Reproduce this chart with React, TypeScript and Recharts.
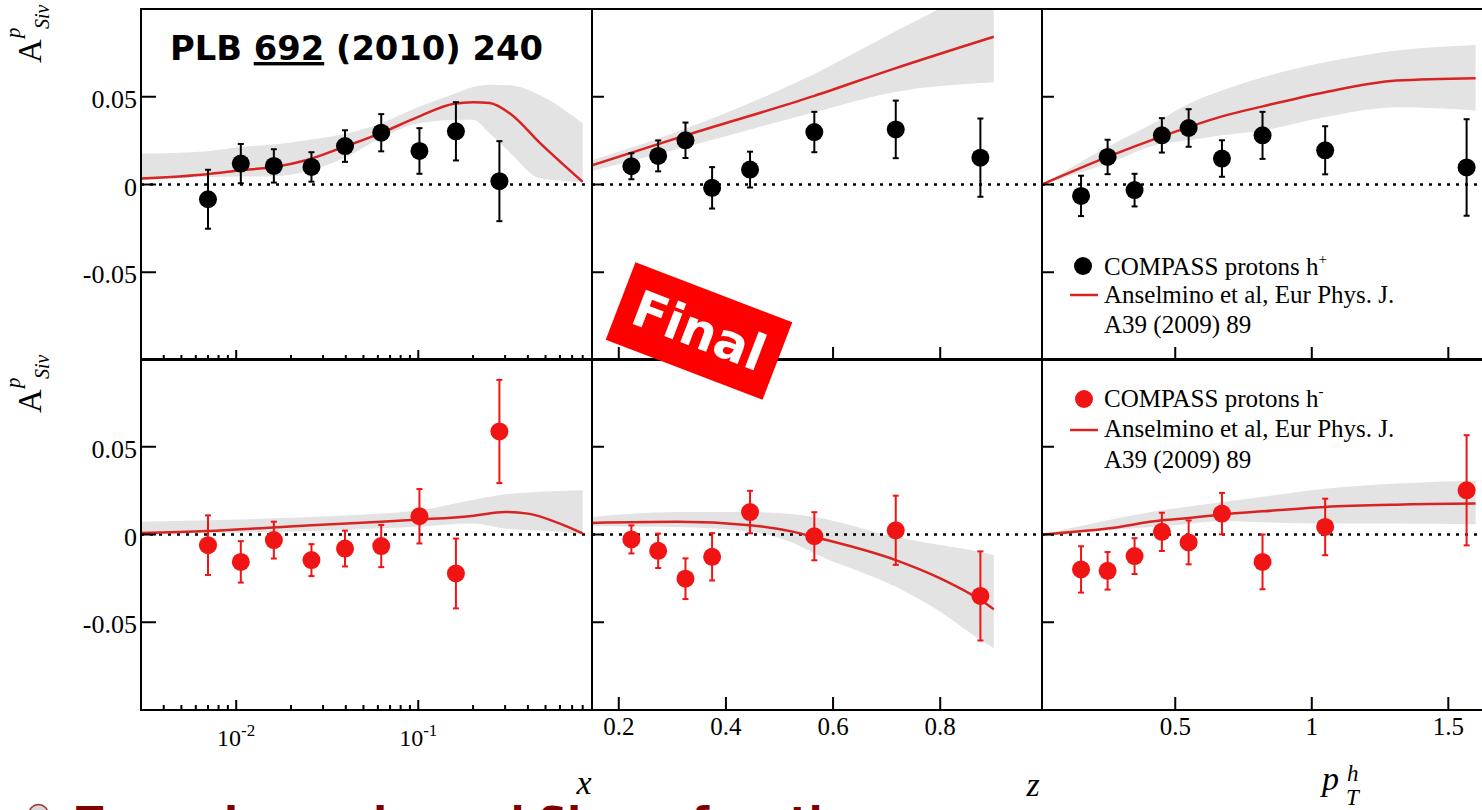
import React from 'react';
import {
  ComposedChart,
  XAxis,
  YAxis,
  Scatter,
  Line,
  Area,
  ErrorBar,
  ReferenceLine,
  ReferenceArea,
} from 'recharts';

// ---------------- DATA ----------------
// bin centres
const xBins = [0.0070, 0.0106, 0.0161, 0.0259, 0.0396, 0.0626, 0.1015, 0.161, 0.279];
const zBins = [0.2235, 0.2735, 0.3245, 0.3742, 0.445, 0.565, 0.717, 0.875];
const ptBins = [0.155, 0.2523, 0.351, 0.451, 0.549, 0.671, 0.8196, 1.049, 1.567];

// h+ asymmetries
const posXVal = [-0.0084, 0.0119, 0.0106, 0.0100, 0.0219, 0.0295, 0.0191, 0.0303, 0.0019];
const posXErr = [0.0168, 0.0112, 0.0095, 0.0084, 0.0090, 0.0106, 0.0130, 0.0166, 0.0228];
const posZVal = [0.0104, 0.0163, 0.0252, -0.0019, 0.0085, 0.0299, 0.0314, 0.0153];
const posZErr = [0.0074, 0.0088, 0.0101, 0.0118, 0.0102, 0.0115, 0.0164, 0.0223];
const posPtVal = [-0.0065, 0.0157, -0.0032, 0.0280, 0.0322, 0.0148, 0.0280, 0.0195, 0.0097];
const posPtErr = [0.0115, 0.0098, 0.0093, 0.0098, 0.0107, 0.0104, 0.0134, 0.0137, 0.0275];

// h- asymmetries
const negXVal = [-0.0061, -0.0156, -0.0032, -0.0146, -0.0080, -0.0066, 0.0104, -0.0222, 0.0587];
const negXErr = [0.0170, 0.0118, 0.0105, 0.0091, 0.0102, 0.0120, 0.0155, 0.0199, 0.0294];
const negZVal = [-0.0028, -0.0093, -0.0252, -0.0127, 0.0128, -0.0010, 0.0024, -0.0350];
const negZErr = [0.0080, 0.0098, 0.0116, 0.0135, 0.0121, 0.0137, 0.0197, 0.0254];
const negPtVal = [-0.0199, -0.0207, -0.0123, 0.0015, -0.0045, 0.0119, -0.0156, 0.0043, 0.0252];
const negPtErr = [0.0132, 0.0107, 0.0102, 0.0109, 0.0125, 0.0118, 0.0156, 0.0161, 0.0314];

// model (Anselmino et al.) curves and uncertainty bands
const posXGrid = [0.003, 0.0069, 0.0106, 0.0161, 0.0245, 0.040, 0.0623, 0.0992, 0.157, 0.20, 0.247, 0.32, 0.47, 0.80];
const posXCurve = [0.0034, 0.0059, 0.0081, 0.0100, 0.0140, 0.0218, 0.0293, 0.0384, 0.0460, 0.0469, 0.0464, 0.0403, 0.0233, 0.0015];
const posXHi = [0.0176, 0.0190, 0.0214, 0.0228, 0.0252, 0.0290, 0.0347, 0.0440, 0.0515, 0.0555, 0.0568, 0.0565, 0.0507, 0.0347];
const posXLo = [0.0024, 0.0043, 0.0045, 0.0047, 0.0075, 0.0155, 0.0265, 0.0347, 0.0368, 0.0369, 0.0290, 0.0180, 0.0034, 0.0015];

const negXGrid = [0.003, 0.0069, 0.0259, 0.0626, 0.1015, 0.196, 0.30, 0.40, 0.60, 0.80];
const negXCurve = [0.0009, 0.0020, 0.0053, 0.0072, 0.0085, 0.0106, 0.0128, 0.0119, 0.0062, 0.0006];
const negXHi = [0.0072, 0.0081, 0.0100, 0.0119, 0.0138, 0.0195, 0.0229, 0.0240, 0.0248, 0.0252];
const negXLo = [0.0006, 0.0008, 0.0020, 0.0035, 0.0045, 0.0062, 0.0034, 0.0025, 0.0015, 0.0000];

const posZGrid = [0.15, 0.3245, 0.565, 0.713, 0.90];
const posZCurve = [0.0110, 0.0280, 0.0505, 0.0659, 0.0842];
const posZHi = [0.0138, 0.0318, 0.0630, 0.0867, 0.1160];
const posZLo = [0.0077, 0.0214, 0.0412, 0.0526, 0.0583];

const negZGrid = [0.15, 0.309, 0.445, 0.5265, 0.565, 0.717, 0.80, 0.876, 0.90];
const negZCurve = [0.0066, 0.0072, 0.0053, 0.0015, -0.0014, -0.0146, -0.0250, -0.0375, -0.0426];
const negZHi = [0.0100, 0.0128, 0.0128, 0.0116, 0.0100, -0.0014, -0.0060, -0.0100, -0.0118];
const negZLo = [0.0047, 0.0043, 0.0015, -0.0050, -0.0108, -0.0298, -0.0440, -0.0603, -0.0648];

const ptGrid = [0.012, 0.252, 0.451, 0.549, 0.671, 0.82, 1.049, 1.311, 1.60];
const posPtCurve = [0.0, 0.0157, 0.0274, 0.0327, 0.0388, 0.0445, 0.0526, 0.0592, 0.0606];
const posPtHi = [0.0, 0.0214, 0.0375, 0.0460, 0.0535, 0.0611, 0.0696, 0.0763, 0.0795];
const posPtLo = [0.0, 0.0119, 0.0233, 0.0252, 0.0280, 0.0308, 0.0384, 0.0440, 0.0422];
const negPtCurve = [0.0, 0.0034, 0.0081, 0.0094, 0.0114, 0.0132, 0.0157, 0.0170, 0.0176];
const negPtHi = [0.0, 0.0081, 0.0138, 0.0160, 0.0185, 0.0215, 0.0261, 0.0290, 0.0308];
const negPtLo = [0.0, 0.0024, 0.0047, 0.0060, 0.0077, 0.0070, 0.0062, 0.0062, 0.0058];

// axes
const yTickVals = [-0.05, 0, 0.05];
const yTickLabels = ['-0.05', '0', '0.05'];
const xLogTicks = [0.004, 0.005, 0.006, 0.007, 0.008, 0.009, 0.01, 0.02, 0.03, 0.04, 0.05, 0.06, 0.07, 0.08, 0.09, 0.1, 0.2, 0.3, 0.4, 0.5, 0.6, 0.7, 0.8];
const xLogMajor = [0.01, 0.1];
const xLogExp = ['-2', '-1'];
const zTicks = [0.2, 0.4, 0.6, 0.8];
const zTickLabels = ['0.2', '0.4', '0.6', '0.8'];
const ptTicks = [0.5, 1, 1.5];
const ptTickLabels = ['0.5', '1', '1.5'];

// ---------------- HELPERS ----------------
const buildModel = (xs: number[], ys: number[], lo: number[], hi: number[]) =>
  xs.map((x, i) => ({ x, y: ys[i], band: [lo[i], hi[i]] }));
const buildPts = (xs: number[], ys: number[], es: number[]) =>
  xs.map((x, i) => ({ x, y: ys[i], err: es[i] }));

const SERIF = "'Liberation Serif', 'Times New Roman', 'DejaVu Serif', serif";
const SANS = "'DejaVu Sans', Verdana, sans-serif";
const serif = { fontFamily: SERIF };
const sans = { fontFamily: SANS };
const CURVE = '#d82323';
const RED = '#f01414';
const BAND = '#e3e3e3';

type XMode = 'log' | 'z' | 'pt';

interface PanelCfg {
  left: number;
  top: number;
  w: number;
  h: number;
  mode: XMode;
  domain: [number, number];
  showXLabels: boolean;
  showYLabels: boolean;
  yTickLen: number;
  model: { x: number; y: number; band: number[] }[];
  pts: { x: number; y: number; err: number }[];
  color: string;
}

function makeXTick(mode: XMode, showLabels: boolean) {
  return (p: any) => {
    const { x, y, payload } = p;
    const v = payload.value;
    let len = 13;
    let label: React.ReactNode = null;
    if (mode === 'log') {
      const mi = xLogMajor.indexOf(v);
      len = mi >= 0 ? 10 : 5;
      if (showLabels && mi >= 0) {
        label = (
          <text x={x} y={y + 36} textAnchor="middle" style={serif} fontSize={24} fill="#000">
            10<tspan dy={-10} fontSize={17}>{xLogExp[mi]}</tspan>
          </text>
        );
      }
    } else {
      const ticks = mode === 'z' ? zTicks : ptTicks;
      const labels = mode === 'z' ? zTickLabels : ptTickLabels;
      const i = ticks.indexOf(v);
      if (showLabels && i >= 0) {
        label = (
          <text x={x} y={y + 25} textAnchor="middle" style={serif} fontSize={25} fill="#000">
            {labels[i]}
          </text>
        );
      }
    }
    return (
      <g>
        <line x1={x} y1={y} x2={x} y2={y - len} stroke="#000" strokeWidth={2} />
        {label}
      </g>
    );
  };
}

function makeYTick(len: number, showLabels: boolean) {
  return (p: any) => {
    const { x, y, payload } = p;
    const i = yTickVals.indexOf(payload.value);
    return (
      <g>
        <line x1={x} y1={y} x2={x + len} y2={y} stroke="#000" strokeWidth={2} />
        {showLabels && i >= 0 && (
          <text x={x - 4} y={y + 11} textAnchor="end" style={serif} fontSize={26} fill="#000">
            {yTickLabels[i]}
          </text>
        )}
      </g>
    );
  };
}

function Panel(c: PanelCfg) {
  const YW = 70;
  const XH = 60;
  const MT = 10;
  const MR = 10;
  const ticks = c.mode === 'log' ? xLogTicks : c.mode === 'z' ? zTicks : ptTicks;
  const color = c.color;
  return (
    <div style={{ position: 'absolute', left: c.left - YW, top: c.top - MT }}>
      <ComposedChart
        width={c.w + YW + MR}
        height={c.h + MT + XH}
        margin={{ top: MT, right: MR, bottom: 0, left: 0 }}
      >
        <XAxis
          dataKey="x"
          type="number"
          scale={c.mode === 'log' ? 'log' : 'linear'}
          domain={c.domain}
          allowDataOverflow
          ticks={ticks}
          interval={0}
          tickSize={0}
          tickMargin={0}
          tickLine={false}
          axisLine={{ stroke: '#000', strokeWidth: 2 }}
          height={XH}
          tick={makeXTick(c.mode, c.showXLabels)}
        />
        <YAxis
          type="number"
          domain={[-0.1, 0.1]}
          allowDataOverflow
          ticks={yTickVals}
          interval={0}
          tickSize={0}
          tickMargin={0}
          tickLine={false}
          axisLine={{ stroke: '#000', strokeWidth: 2 }}
          width={YW}
          tick={makeYTick(c.yTickLen, c.showYLabels)}
        />
        <Area
          data={c.model}
          dataKey="band"
          type="monotone"
          stroke="none"
          fill={BAND}
          fillOpacity={1}
          isAnimationActive={false}
        />
        <ReferenceLine y={0} stroke="#000" strokeWidth={2.5} strokeDasharray="3 6" />
        <Line
          data={c.model}
          dataKey="y"
          type="monotone"
          stroke={CURVE}
          strokeWidth={2.5}
          dot={false}
          isAnimationActive={false}
        />
        <Scatter
          data={c.pts}
          dataKey="y"
          fill={color}
          isAnimationActive={false}
          shape={(p: any) => <circle cx={p.cx} cy={p.cy} r={9} fill={color} />}
        >
          <ErrorBar dataKey="err" direction="y" width={3} stroke={color} strokeWidth={2} />
        </Scatter>
        <ReferenceArea
          x1={c.domain[0]}
          x2={c.domain[1]}
          y1={-0.1}
          y2={0.1}
          fill="none"
          fillOpacity={0}
          stroke="#000"
          strokeWidth={2}
        />
      </ComposedChart>
    </div>
  );
}

const COLS = [141, 592, 1042];
const ROWS = [9, 359];
const PW = [451, 450, 450];
const PH = 351;

export default function App() {
  const logDom: [number, number] = [0.003, 0.9];
  const zDom: [number, number] = [0.15, 0.99];
  const ptDom: [number, number] = [0.012, 1.66];

  const panels: PanelCfg[] = [
    { left: COLS[0], top: ROWS[0], w: PW[0], h: PH, mode: 'log', domain: logDom, showXLabels: false, showYLabels: true, yTickLen: 15,
      model: buildModel(posXGrid, posXCurve, posXLo, posXHi), pts: buildPts(xBins, posXVal, posXErr), color: '#000' },
    { left: COLS[1], top: ROWS[0], w: PW[1], h: PH, mode: 'z', domain: zDom, showXLabels: false, showYLabels: false, yTickLen: 12,
      model: buildModel(posZGrid, posZCurve, posZLo, posZHi), pts: buildPts(zBins, posZVal, posZErr), color: '#000' },
    { left: COLS[2], top: ROWS[0], w: PW[2], h: PH, mode: 'pt', domain: ptDom, showXLabels: false, showYLabels: false, yTickLen: 12,
      model: buildModel(ptGrid, posPtCurve, posPtLo, posPtHi), pts: buildPts(ptBins, posPtVal, posPtErr), color: '#000' },
    { left: COLS[0], top: ROWS[1], w: PW[0], h: PH, mode: 'log', domain: logDom, showXLabels: true, showYLabels: true, yTickLen: 15,
      model: buildModel(negXGrid, negXCurve, negXLo, negXHi), pts: buildPts(xBins, negXVal, negXErr), color: RED },
    { left: COLS[1], top: ROWS[1], w: PW[1], h: PH, mode: 'z', domain: zDom, showXLabels: true, showYLabels: false, yTickLen: 12,
      model: buildModel(negZGrid, negZCurve, negZLo, negZHi), pts: buildPts(zBins, negZVal, negZErr), color: RED },
    { left: COLS[2], top: ROWS[1], w: PW[2], h: PH, mode: 'pt', domain: ptDom, showXLabels: true, showYLabels: false, yTickLen: 12,
      model: buildModel(ptGrid, negPtCurve, negPtLo, negPtHi), pts: buildPts(ptBins, negPtVal, negPtErr), color: RED },
  ];

  const yTitle = (baseY: number) => (
    <text transform={`translate(41,${baseY}) rotate(-90)`} style={serif} fill="#000">
      <tspan fontSize={33}>A</tspan>
      <tspan x={25} dy={-21} fontSize={21} fontStyle="italic">p</tspan>
      <tspan x={34} dy={29} fontSize={20} fontStyle="italic">Siv</tspan>
    </text>
  );

  return (
    <div
      style={{
        position: 'fixed',
        left: 0,
        top: 0,
        width: 1482,
        height: 810,
        overflow: 'hidden',
        background: '#fff',
      }}
    >
      {panels.map((p, i) => (
        <Panel key={i} {...p} />
      ))}
      <svg
        width={1482}
        height={810}
        style={{ position: 'absolute', left: 0, top: 0, pointerEvents: 'none' }}
      >
        {yTitle(63)}
        {yTitle(413)}

        {/* x-axis titles */}
        <text x={584} y={794} textAnchor="middle" style={serif} fontStyle="italic" fontSize={34} fill="#000">x</text>
        <text x={1033} y={796} textAnchor="middle" style={serif} fontStyle="italic" fontSize={34} fill="#000">z</text>
        <text x={1322} y={790} style={serif} fontStyle="italic" fontSize={34} fill="#000">
          p<tspan x={1347} y={781} fontSize={23}>h</tspan>
          <tspan x={1346} y={805} fontSize={23}>T</tspan>
        </text>

        {/* publication reference */}
        <text x={170} y={60} style={sans} fontWeight="bold" fontSize={34} fill="#000" textLength={373} lengthAdjust="spacingAndGlyphs">
          PLB <tspan style={{ textDecoration: 'underline' }}>692</tspan> (2010) 240
        </text>

        {/* legend, upper */}
        <circle cx={1083} cy={266} r={9} fill="#000" />
        <text x={1104} y={275} style={serif} fontSize={25} fill="#000">
          COMPASS protons h<tspan dy={-11} fontSize={15}>+</tspan>
        </text>
        <line x1={1070} y1={295} x2={1098} y2={295} stroke={CURVE} strokeWidth={2.5} />
        <text x={1104} y={303} style={serif} fontSize={25} fill="#000">Anselmino et al, Eur Phys. J.</text>
        <text x={1104} y={333} style={serif} fontSize={25} fill="#000">A39 (2009) 89</text>

        {/* legend, lower */}
        <circle cx={1084} cy={399} r={9} fill={RED} />
        <text x={1104} y={407} style={serif} fontSize={25} fill="#000">
          COMPASS protons h<tspan dy={-11} fontSize={15}>-</tspan>
        </text>
        <line x1={1070} y1={430} x2={1098} y2={430} stroke={CURVE} strokeWidth={2.5} />
        <text x={1104} y={437} style={serif} fontSize={25} fill="#000">Anselmino et al, Eur Phys. J.</text>
        <text x={1104} y={468} style={serif} fontSize={25} fill="#000">A39 (2009) 89</text>

        {/* Final stamp */}
        <g transform="translate(699,331) rotate(21)">
          <rect x={-84} y={-41.5} width={168} height={83} fill="#ff0000" />
          <text x={0} y={17} textAnchor="middle" style={sans} fontWeight="bold" fontSize={50} fill="#fff">Final</text>
        </g>

        {/* slide bullet text, clipped at the bottom */}
        <circle cx={38.5} cy={814} r={9.5} fill="#d8d8d8" stroke="#a03030" strokeWidth={1.5} />
        <text x={76} y={836} style={sans} fontWeight="bold" fontSize={40} fill="#800000">
          Towards a universal Sivers function
        </text>
      </svg>
    </div>
  );
}
